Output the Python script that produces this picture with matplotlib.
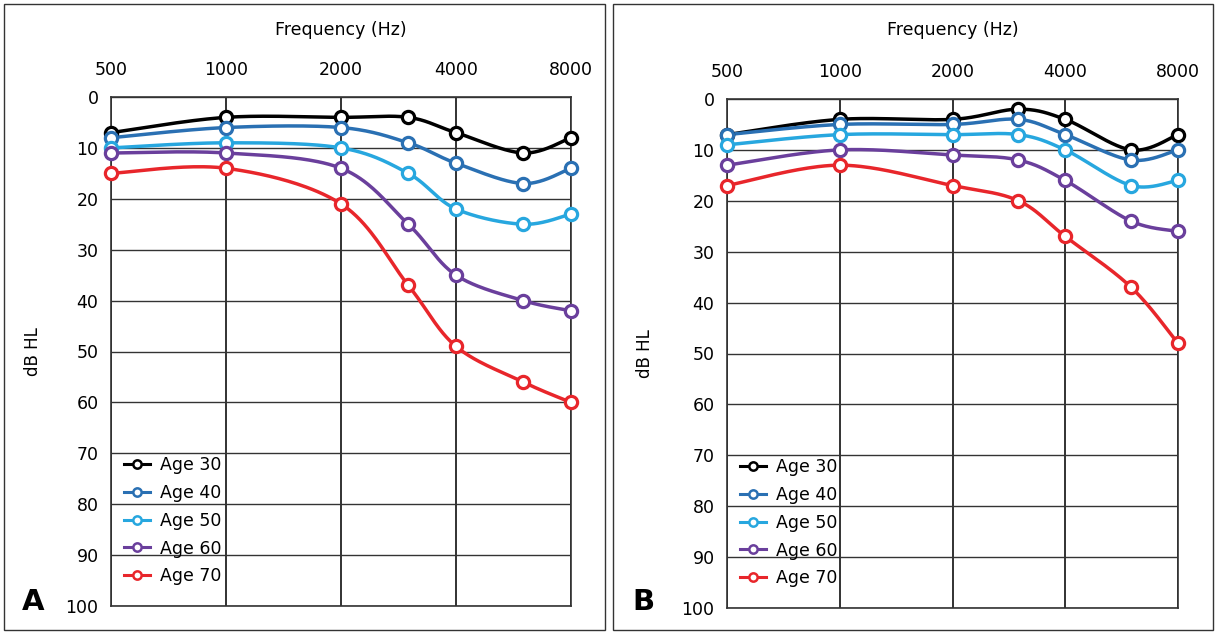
import numpy as np
import matplotlib
matplotlib.use("Agg")
import matplotlib.pyplot as plt
from matplotlib.patches import Rectangle

plt.rcParams['font.family'] = ['DejaVu Sans']

freqs = [500, 1000, 2000, 3000, 4000, 6000, 8000]
freq_ticks = [500, 1000, 2000, 4000, 8000]
freq_labels = ["500", "1000", "2000", "4000", "8000"]
db_ticks = list(range(0, 101, 10))
labels = ["Age 30", "Age 40", "Age 50", "Age 60", "Age 70"]
colors = ["#000000", "#2a70b3", "#27a7df", "#6a3f9c", "#e8262b"]

# Panel A
a_age30 = [7, 4, 4, 4, 7, 11, 8]
a_age40 = [8, 6, 6, 9, 13, 17, 14]
a_age50 = [10, 9, 10, 15, 22, 25, 23]
a_age60 = [11, 11, 14, 25, 35, 40, 42]
a_age70 = [15, 14, 21, 37, 49, 56, 60]

# Panel B
b_age30 = [7, 4, 4, 2, 4, 10, 7]
b_age40 = [7, 5, 5, 4, 7, 12, 10]
b_age50 = [9, 7, 7, 7, 10, 17, 16]
b_age60 = [13, 10, 11, 12, 16, 24, 26]
b_age70 = [17, 13, 17, 20, 27, 37, 48]

panels = [
    ("A", [a_age30, a_age40, a_age50, a_age60, a_age70]),
    ("B", [b_age30, b_age40, b_age50, b_age60, b_age70]),
]


def smooth(xs, ys, n=40):
    """Catmull-Rom (Excel-like) smoothing in log2-frequency space."""
    lx = np.log2(np.asarray(xs, float))
    y = np.asarray(ys, float)
    P = np.column_stack([lx, y])
    Pe = np.vstack([P[0], P, P[-1]])
    out = []
    for i in range(1, len(Pe) - 2):
        p0, p1, p2, p3 = Pe[i - 1], Pe[i], Pe[i + 1], Pe[i + 2]
        c1 = p1 + (p2 - p0) / 6.0
        c2 = p2 - (p3 - p1) / 6.0
        t = np.linspace(0, 1, n)[:, None]
        seg = ((1 - t) ** 3) * p1 + 3 * ((1 - t) ** 2) * t * c1 + 3 * (1 - t) * t ** 2 * c2 + t ** 3 * p2
        out.append(seg if i == 1 else seg[1:])
    s = np.vstack(out)
    return 2 ** s[:, 0], s[:, 1]


W, H = 1218, 634
fig = plt.figure(figsize=(W / 100, H / 100), dpi=100)

ax_boxes = [
    (111, 571, 97, 606),
    (727, 1178, 99, 608),
]
frames = [(4, 605, 4, 630), (613, 1213, 4, 630)]
letter_x = [33, 643]
ylab_x = [33, 645]

for k, (name, series) in enumerate(panels):
    l, r, t, b = ax_boxes[k]
    ax = fig.add_axes([l / W, 1 - b / H, (r - l) / W, (b - t) / H])
    fl, fr, ft, fb = frames[k]
    fig.patches.append(Rectangle((fl / W, 1 - fb / H), (fr - fl) / W, (fb - ft) / H,
                                 transform=fig.transFigure, fill=False,
                                 edgecolor="#333333", linewidth=1.0))
    ax.set_xscale("log", base=2)
    ax.set_xlim(500, 8000)
    ax.set_ylim(100, 0)
    ax.set_xticks(freq_ticks)
    ax.set_xticklabels(freq_labels)
    ax.xaxis.set_minor_locator(matplotlib.ticker.NullLocator())
    ax.set_yticks(db_ticks)
    ax.xaxis.tick_top()
    ax.tick_params(axis="x", length=0, pad=13, labelsize=12.5)
    ax.tick_params(axis="y", length=0, pad=9, labelsize=12.5)
    ax.grid(True, axis="x", color="#222222", linewidth=1.3)
    ax.grid(True, axis="y", color="#333333", linewidth=1.0)
    ax.set_axisbelow(True)
    for sp in ax.spines.values():
        sp.set_color("#333333")
        sp.set_linewidth(1.2)

    for vals, lab, c in zip(series, labels, colors):
        sx, sy = smooth(freqs, vals)
        ax.plot(sx, sy, color=c, linewidth=2.5, clip_on=False, zorder=3)
        ax.plot(freqs, vals, linestyle="none", marker="o", markersize=8.8,
                markerfacecolor="white", markeredgecolor=c, markeredgewidth=2.3,
                clip_on=False, zorder=4)
        ax.plot([], [], color=c, linewidth=2.2, marker="o", markersize=6,
                markerfacecolor="white", markeredgecolor=c, markeredgewidth=1.8,
                label=lab)

    leg = ax.legend(loc="upper left", bbox_to_anchor=(0.028, 0.294), frameon=False,
                    fontsize=12.5, handlelength=1.5, handletextpad=0.6,
                    labelspacing=0.56, borderpad=0, borderaxespad=0)

    cx = (l + r) / 2 / W
    fig.text(cx, 1 - 30 / H, "Frequency (Hz)", ha="center", va="center", fontsize=12.5)
    fig.text(ylab_x[k] / W, 1 - ((t + b) / 2) / H, "dB HL", rotation=90,
             ha="center", va="center", fontsize=12)
    fig.text(letter_x[k] / W, 1 - 602 / H, name, ha="center", va="center",
             fontsize=21, fontweight="bold")

fig.savefig("out.png", dpi=100)
